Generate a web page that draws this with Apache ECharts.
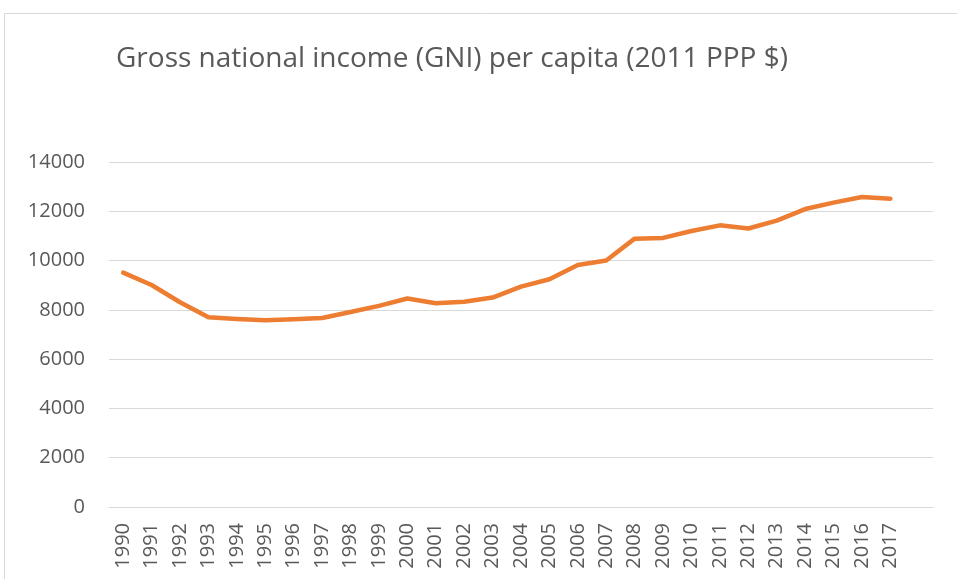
<!DOCTYPE html>
<html>
<head>
<meta charset="utf-8">
<script src="https://cdn.jsdelivr.net/npm/echarts@6/dist/echarts.min.js"></script>
<style>
  html, body { margin: 0; padding: 0; background: #fff; }
  #chart { width: 957px; height: 579px; }
</style>
</head>
<body>
<div id="chart"></div>
<script>
// Excel-style line chart: GNI per capita
const years = ['1990', '1991', '1992', '1993', '1994', '1995', '1996', '1997', '1998', '1999',
  '2000', '2001', '2002', '2003', '2004', '2005', '2006', '2007', '2008', '2009',
  '2010', '2011', '2012', '2013', '2014', '2015', '2016', '2017', '']
const gni = [9510, 9010, 8310, 7700, 7630, 7580, 7620, 7670, 7910, 8160,
  8460, 8270, 8330, 8500, 8940, 9240, 9820, 10000, 10890, 10920,
  11200, 11430, 11300, 11620, 12090, 12350, 12580, 12510, null]
const yTicks = { min: 0, max: 14000, interval: 2000 }

const textColor = '#595959'
const font = '"Open Sans", sans-serif'

const chart = echarts.init(document.getElementById('chart'))
chart.setOption({
  animation: false,
  title: {
    text: 'Gross national income (GNI) per capita (2011 PPP $)',
    left: 111, top: 40,
    textStyle: { color: textColor, fontSize: 28, fontWeight: 'normal', fontFamily: font },
  },
  graphic: [{
    type: 'rect',
    shape: { x: 4.5, y: 13.5, width: 1000, height: 700 },
    style: { fill: 'none', stroke: '#d9d9d9', lineWidth: 1 },
    silent: true,
  }],
  grid: { left: 109, right: 24, top: 162, bottom: 72 },
  xAxis: {
    type: 'category',
    data: years,
    boundaryGap: true,
    axisLine: { show: true, lineStyle: { color: '#d9d9d9', width: 1 } },
    axisTick: { show: false },
    axisLabel: {
      rotate: 90, interval: 0, margin: 16,
      color: textColor, fontSize: 20, fontFamily: font,
    },
  },
  yAxis: {
    type: 'value',
    ...yTicks,
    axisLine: { show: false },
    axisTick: { show: false },
    splitLine: { lineStyle: { color: '#d9d9d9', width: 1 } },
    axisLabel: {
      margin: 24, color: textColor, fontSize: 20, fontFamily: font,
      formatter: v => String(v),
    },
  },
  series: [{
    type: 'line',
    data: gni,
    symbol: 'none',
    lineStyle: { color: '#ED7D31', width: 4.5, cap: 'round', join: 'round' },
  }],
})
</script>
</body>
</html>
